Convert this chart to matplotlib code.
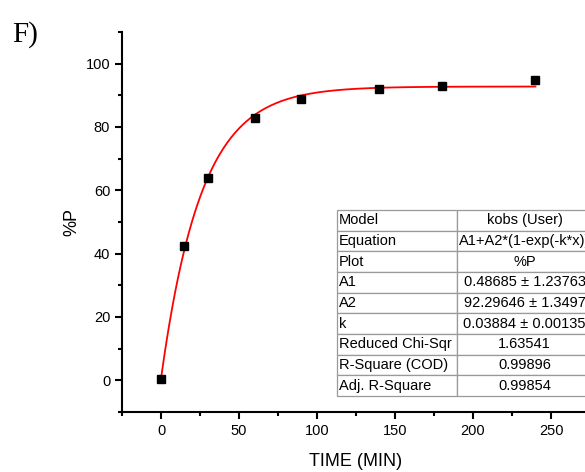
import numpy as np
import matplotlib.pyplot as plt
from matplotlib.ticker import MultipleLocator

plt.rcParams['font.family'] = ['Liberation Sans', 'DejaVu Sans']

# measured data
time_min = [0, 15, 30, 60, 90, 140, 180, 240]
pct_p = [0.3, 42.5, 64.0, 83.0, 88.7, 92.0, 93.0, 94.8]

# fit parameters (kobs model)
A1 = 0.48685
A2 = 92.29646
k = 0.03884

table_rows = [
    ['Model', 'kobs (User)'],
    ['Equation', 'A1+A2*(1-exp(-k*x))'],
    ['Plot', '%P'],
    ['A1', '0.48685 \u00b1 1.23763'],
    ['A2', '92.29646 \u00b1 1.3497'],
    ['k', '0.03884 \u00b1 0.00135'],
    ['Reduced Chi-Sqr', '1.63541'],
    ['R-Square (COD)', '0.99896'],
    ['Adj. R-Square', '0.99854'],
]

fig = plt.figure(figsize=(5.85, 4.72), dpi=100)
W, H = 585, 472
# axes runs past the right edge, like the original crop
ax = fig.add_axes([122 / W, 1 - 412 / H, 468 / W, 380 / H])

x_fit = np.linspace(0, 240, 400)
y_fit = A1 + A2 * (1 - np.exp(-k * x_fit))
ax.plot(x_fit, y_fit, color='red', lw=1.3, zorder=2)
ax.plot(time_min, pct_p, 's', color='black', ms=6, zorder=3)

ax.set_xlim(-25, 275)
ax.set_ylim(-10, 110)
ax.xaxis.set_major_locator(MultipleLocator(50))
ax.xaxis.set_minor_locator(MultipleLocator(25))
ax.yaxis.set_major_locator(MultipleLocator(20))
ax.yaxis.set_minor_locator(MultipleLocator(10))

for s in ['top', 'right']:
    ax.spines[s].set_visible(False)
for s in ['left', 'bottom']:
    ax.spines[s].set_linewidth(1.5)

ax.tick_params(which='major', direction='out', length=5, width=1.5, labelsize=10.5)
ax.tick_params(which='minor', direction='out', length=3, width=1.5)

ax.set_xlabel('TIME (MIN)', fontsize=13, labelpad=11)
ax.set_ylabel('%P', fontsize=13, labelpad=4)

fig.text(12 / W, 1 - 42 / H, 'F)', family='Liberation Serif', fontsize=21)

tb = ax.table(cellText=table_rows, colWidths=[120, 135],
              bbox=[(337 - 122) / 468, (412 - 396) / 380, 255 / 468, 186 / 380])
tb.auto_set_font_size(False)
tb.set_fontsize(10.5)
for (r, c), cell in tb.get_celld().items():
    cell.set_edgecolor('#999999')
    cell.set_linewidth(0.9)
    cell.set_facecolor('white')
    if c == 0:
        cell.set_text_props(ha='left')
        cell.PAD = 0.015
    else:
        cell.set_text_props(ha='center')

fig.savefig('out.png', dpi=100)
